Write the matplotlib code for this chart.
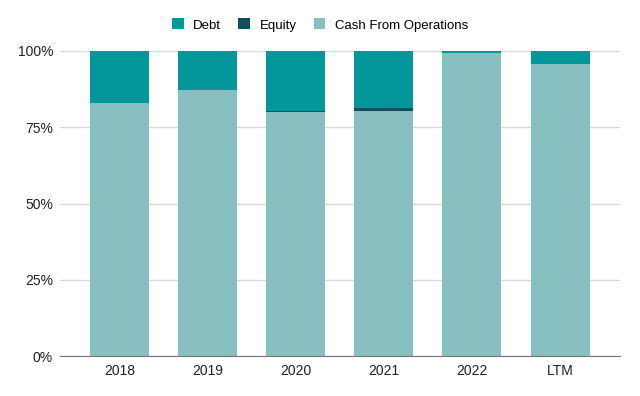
import numpy as np
import matplotlib.pyplot as plt
from matplotlib.ticker import PercentFormatter

plt.rcParams['font.family'] = ['Liberation Sans', 'DejaVu Sans']

# Data (share of funding sources, %)
years = ["2018", "2019", "2020", "2021", "2022", "LTM"]
cfo = [82.9, 87.3, 79.9, 80.4, 99.2, 95.7]
equity = [0.0, 0.0, 0.4, 1.0, 0.0, 0.0]
debt = [100 - c - e for c, e in zip(cfo, equity)]

c_debt = "#03979c"
c_equity = "#134f5c"
c_cfo = "#88c0c2"

fig = plt.figure(figsize=(6.4, 3.96), dpi=100)
ax = fig.add_axes([60/640, 1 - 356/396, 560/640, 305/396])

x = np.arange(len(years))
w = 0.67
ax.bar(x, cfo, w, color=c_cfo, label="Cash From Operations", zorder=3)
ax.bar(x, equity, w, bottom=cfo, color=c_equity, label="Equity", zorder=3)
ax.bar(x, debt, w, bottom=np.array(cfo) + np.array(equity), color=c_debt,
       label="Debt", zorder=3)

ax.set_xlim(-0.675, 5.68)
ax.set_ylim(0, 100)
ax.set_yticks([0, 25, 50, 75, 100])
ax.yaxis.set_major_formatter(PercentFormatter(decimals=0))
ax.set_xticks(x)
ax.set_xticklabels(years)
ax.grid(axis='y', color="#d9d9d9", linewidth=1, zorder=0)
for s in ["top", "right", "left"]:
    ax.spines[s].set_visible(False)
ax.spines["bottom"].set_color("#757575")
ax.spines["bottom"].set_zorder(4)
ax.tick_params(length=0, labelsize=10, colors="#222222")
ax.tick_params(axis='x', pad=6)
ax.tick_params(axis='y', pad=5)

h, l = ax.get_legend_handles_labels()
fig.legend(h[::-1], l[::-1], loc="center", bbox_to_anchor=(0.5, 1 - 25/396),
           ncol=3, frameon=False, fontsize=9.5, handlelength=0.9,
           handleheight=0.9, columnspacing=1.3, handletextpad=0.7)

fig.savefig("out.png", dpi=100)
